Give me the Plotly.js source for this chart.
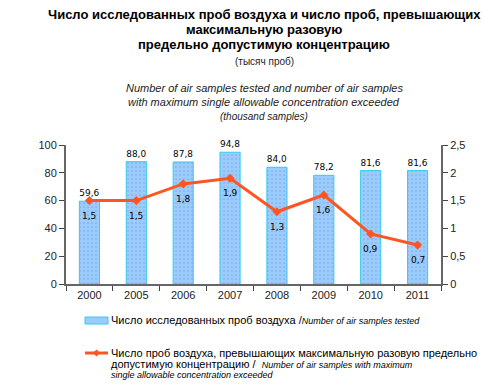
<!DOCTYPE html>
<html>
<head>
<meta charset="utf-8">
<script src="https://cdn.plot.ly/plotly-3.0.1.min.js"></script>
<style>html,body{margin:0;padding:0;background:#fff;}#chart{width:484px;height:392px;}</style>
</head>
<body>
<div id="chart"></div>
<script>
const years = ["2000","2005","2006","2007","2008","2009","2010","2011"];
const samplesTested = [59.6, 88.0, 87.8, 94.8, 84.0, 78.2, 81.6, 81.6];
const samplesExceeded = [1.5, 1.5, 1.8, 1.9, 1.3, 1.6, 0.9, 0.7];

const fmt = v => v.toFixed(1).replace('.', ',');

const barColor = '#99ccff';
const barLine = '#33ccee';
const lineColor = '#ff5522';

const barTrace = {
  type: 'bar',
  x: years,
  y: samplesTested,
  width: 0.43,
  text: samplesTested.map(fmt),
  textposition: 'outside',
  textfont: {family: 'DejaVu Sans', size: 9, color: '#000'},
  cliponaxis: false,
  marker: {
    color: barColor,
    line: {color: barLine, width: 1},
    pattern: {shape: '.', fgcolor: '#8fa6dc', bgcolor: barColor, size: 4, solidity: 0.15}
  },
  hoverinfo: 'none'
};

const lineTrace = {
  type: 'scatter',
  mode: 'lines+markers',
  x: years,
  y: samplesExceeded,
  yaxis: 'y2',
  cliponaxis: false,
  line: {color: lineColor, width: 3},
  marker: {symbol: 'diamond', size: 7, color: lineColor},
  hoverinfo: 'none'
};

// plot area in pixels
const L = 66, R = 441, T = 145, B = 284;
const px = x => (x - L) / (R - L);
const py = y => (B - y) / (B - T);

const baseFont = 'Liberation Sans, Arial, sans-serif';
const textItems = [
  {text: '<b>Число исследованных проб воздуха и число проб, превышающих</b>', y: 14, size: 13, color: '#000'},
  {text: '<b>максимальную разовую</b>', y: 29, size: 13, color: '#000'},
  {text: '<b>предельно допустимую концентрацию</b>', y: 44, size: 13, color: '#000'},
  {text: '(тысяч проб)', y: 62, size: 10, color: '#222'},
  {text: '<i>Number of air samples tested and number of air samples</i>', y: 88, size: 11, color: '#222'},
  {text: '<i>with maximum single allowable concentration exceeded</i>', y: 102, size: 11, color: '#222'},
  {text: '<i>(thousand samples)</i>', y: 116, size: 10, color: '#222'}
];
const annotations = textItems.map(a => ({
  text: a.text, xref: 'paper', yref: 'paper',
  x: px(264), y: py(a.y), xanchor: 'center', yanchor: 'middle',
  showarrow: false, font: {family: baseFont, size: a.size, color: a.color}
}));

// line value labels, placed below each point (x = category index)
samplesExceeded.forEach((v, i) => annotations.push({
  text: fmt(v), xref: 'x', yref: 'y2',
  x: i, y: v, yshift: -15,
  xanchor: 'center', yanchor: 'middle', showarrow: false,
  font: {family: 'DejaVu Sans', size: 9, color: '#000'}
}));

const legendText = [
  {text: 'Число исследованных проб воздуха /<span style="font-size:9px"><i>Number of air samples tested</i></span>', y: 320},
  {text: 'Число проб воздуха, превышающих максимальную разовую предельно', y: 353},
  {text: 'допустимую концентрацию /  <span style="font-size:9px"><i>Number of air samples with maximum</i></span>', y: 364},
  {text: '<span style="font-size:9px"><i>single allowable concentration exceeded</i></span>', y: 375}
];
legendText.forEach(l => annotations.push({
  text: l.text, xref: 'paper', yref: 'paper',
  x: px(109), y: py(l.y), xanchor: 'left', yanchor: 'middle', align: 'left',
  showarrow: false, font: {family: baseFont, size: 11, color: '#000'}
}));

const shapes = [
  {type: 'rect', xref: 'paper', yref: 'paper', x0: px(85), x1: px(108), y0: py(317), y1: py(324),
   fillcolor: barColor, line: {color: barLine, width: 1}},
  {type: 'line', xref: 'paper', yref: 'paper', x0: px(85), x1: px(108), y0: py(353), y1: py(353),
   line: {color: lineColor, width: 3}},
  {type: 'path', xref: 'paper', yref: 'paper',
   path: `M ${px(96.5)} ${py(349.5)} L ${px(100)} ${py(353)} L ${px(96.5)} ${py(356.5)} L ${px(93)} ${py(353)} Z`,
   fillcolor: lineColor, line: {color: lineColor, width: 0}}
];

const layout = {
  width: 484, height: 392,
  margin: {l: L, r: 484 - R, t: T, b: 392 - B},
  paper_bgcolor: '#fff', plot_bgcolor: '#fff',
  separators: ', ',
  showlegend: false,
  font: {family: baseFont, size: 11, color: '#222'},
  xaxis: {
    type: 'category',
    range: [-0.5, 7.5],
    showline: true, linecolor: '#666', linewidth: 2,
    ticks: 'outside', tickson: 'boundaries', ticklen: 5, tickcolor: '#444', tickwidth: 1,
    showgrid: false, zeroline: false, automargin: false,
    tickfont: {size: 11, color: '#222'}
  },
  yaxis: {
    range: [0, 100], dtick: 20,
    showline: true, linecolor: '#666', linewidth: 2,
    ticks: 'outside', ticklen: 5, tickcolor: '#444',
    showgrid: false, zeroline: false, automargin: false,
    tickfont: {size: 11, color: '#222'}
  },
  yaxis2: {
    range: [0, 2.5], dtick: 0.5,
    overlaying: 'y', side: 'right',
    showline: true, linecolor: '#666', linewidth: 2,
    ticks: 'outside', ticklen: 5, tickcolor: '#444',
    showgrid: false, zeroline: false, automargin: false,
    tickfont: {size: 11, color: '#222'}
  },
  annotations: annotations,
  shapes: shapes
};

Plotly.newPlot('chart', [barTrace, lineTrace], layout, {displayModeBar: false, staticPlot: true});
</script>
</body>
</html>
